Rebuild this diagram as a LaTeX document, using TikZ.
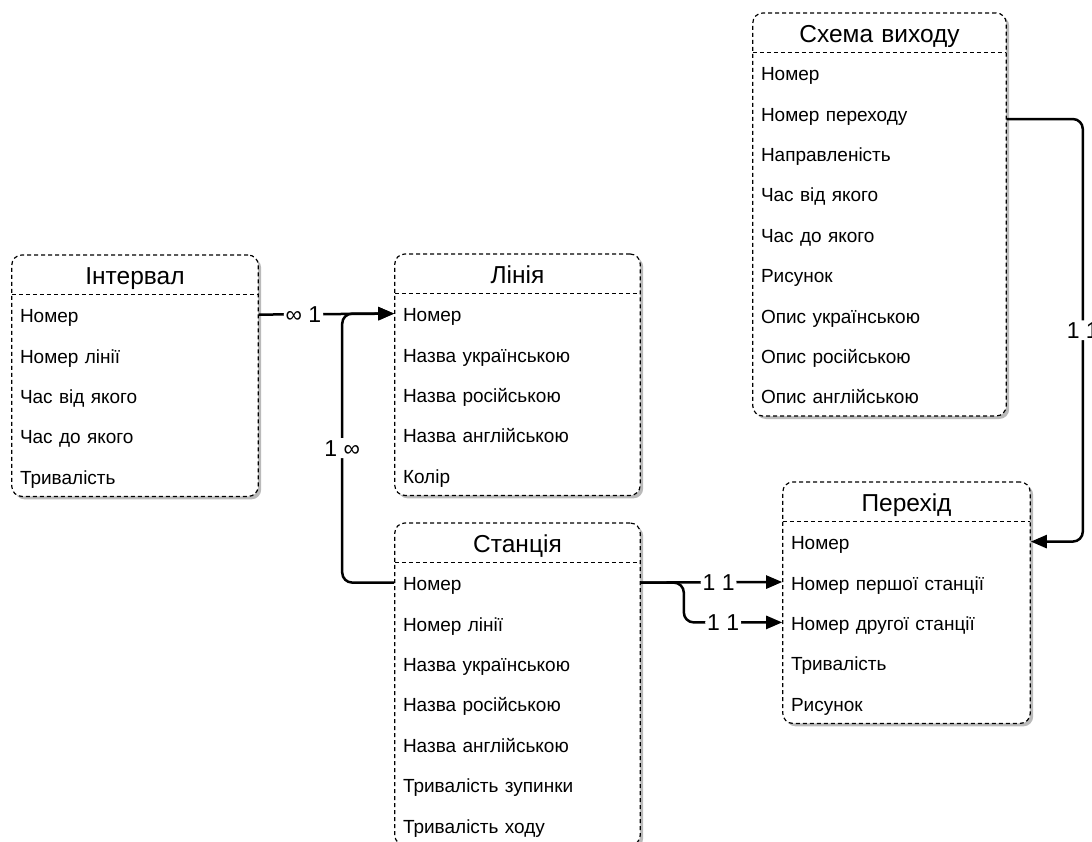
\documentclass[tikz,border=0pt]{standalone}
\usepackage{fontspec}
\setmainfont{Liberation Sans}
\usetikzlibrary{positioning, arrows.meta, fit, backgrounds, shadows}

\begin{document}
\begin{tikzpicture}[
      x=1pt, y=-1pt,
      node distance=0pt,
      head/.style={anchor=north, text width=#1, align=center, inner xsep=8pt, inner ysep=0pt,
        minimum height=39pt, text height=25pt, text depth=5pt, font=\fontsize{24.5}{26}\selectfont},
      field/.style={text width=#1, align=left, inner xsep=8pt, inner ysep=0pt,
        minimum height=40pt, text height=20pt, text depth=4pt, font=\fontsize{19}{21}\selectfont},
      table/.style={draw, dashed, dash pattern=on 4pt off 3pt, line width=1.2pt, rounded corners=10pt,
        fill=white, inner sep=0pt, drop shadow={shadow xshift=3pt, shadow yshift=-3pt, fill=black!45, opacity=0.6}},
      split/.style={draw, dashed, dash pattern=on 4pt off 3pt, line width=0.9pt},
      rel/.style={line width=2.5pt, rounded corners=10pt, -{Triangle[length=16pt, width=13pt]}},
      card/.style={fill=white, inner sep=2pt, font=\fontsize{23}{25}\selectfont}
    ]
    \useasboundingbox (0,0) rectangle (1092,841);

    % Інтервал
    \node[head=230pt] (interval) at (135,255) {Інтервал};
    \node[field=230pt, below=of interval] (interval-1) {Номер};
    \node[field=230pt, below=of interval-1] (interval-2) {Номер лінії};
    \node[field=230pt, below=of interval-2] (interval-3) {Час від якого};
    \node[field=230pt, below=of interval-3] (interval-4) {Час до якого};
    \node[field=230pt, below=of interval-4] (interval-5) {Тривалість};

    % Лінія
    \node[head=229pt] (line) at (517.5,254) {Лінія};
    \node[field=229pt, below=of line] (line-1) {Номер};
    \node[field=229pt, below=of line-1] (line-2) {Назва українською};
    \node[field=229pt, below=of line-2] (line-3) {Назва російською};
    \node[field=229pt, below=of line-3] (line-4) {Назва англійською};
    \node[field=229pt, below=of line-4] (line-5) {Колір};

    % Станція
    \node[head=229pt] (station) at (517.5,523) {Станція};
    \node[field=229pt, below=of station] (station-1) {Номер};
    \node[field=229pt, below=of station-1] (station-2) {Номер лінії};
    \node[field=229pt, below=of station-2] (station-3) {Назва українською};
    \node[field=229pt, below=of station-3] (station-4) {Назва російською};
    \node[field=229pt, below=of station-4] (station-5) {Назва англійською};
    \node[field=229pt, below=of station-5] (station-6) {Тривалість зупинки};
    \node[field=229pt, below=of station-6] (station-7) {Тривалість ходу};

    % Схема виходу
    \node[head=237pt] (exit) at (879.5,13) {Схема виходу};
    \node[field=237pt, below=of exit] (exit-1) {Номер};
    \node[field=237pt, below=of exit-1] (exit-2) {Номер переходу};
    \node[field=237pt, below=of exit-2] (exit-3) {Направленість};
    \node[field=237pt, below=of exit-3] (exit-4) {Час від якого};
    \node[field=237pt, below=of exit-4] (exit-5) {Час до якого};
    \node[field=237pt, below=of exit-5] (exit-6) {Рисунок};
    \node[field=237pt, below=of exit-6] (exit-7) {Опис українською};
    \node[field=237pt, below=of exit-7] (exit-8) {Опис російською};
    \node[field=237pt, below=of exit-8] (exit-9) {Опис англійською};

    % Перехід
    \node[head=231pt] (trans) at (906.5,482) {Перехід};
    \node[field=231pt, below=of trans] (trans-1) {Номер};
    \node[field=231pt, below=of trans-1] (trans-2) {Номер першої станції};
    \node[field=231pt, below=of trans-2] (trans-3) {Номер другої станції};
    \node[field=231pt, below=of trans-3] (trans-4) {Тривалість};
    \node[field=231pt, below=of trans-4] (trans-5) {Рисунок};

    \begin{scope}[on background layer]
      \node[table, fit=(interval)(interval-5)] (interval-box) {};
      \node[table, fit=(line)(line-5)] (line-box) {};
      \node[table, fit=(station)(station-7)] (station-box) {};
      \node[table, fit=(exit)(exit-9)] (exit-box) {};
      \node[table, fit=(trans)(trans-5)] (trans-box) {};
    \end{scope}

    \draw[split] (interval.south west) -- (interval.south east);
    \draw[split] (line.south west) -- (line.south east);
    \draw[split] (station.south west) -- (station.south east);
    \draw[split] (exit.south west) -- (exit.south east);
    \draw[split] (trans.south west) -- (trans.south east);

    \draw[rel] (interval-box.east |- interval-1) -- node[card, pos=0.33] {∞ 1} (line-box.west |- line-1);
    \draw[rel] (station-box.west |- station-1) -- ++(-52,0) |- node[card, pos=0.25] {1 ∞} (line-box.west |- line-1);
    \draw[rel] (station-box.east |- station-1) -- node[card, pos=0.55] {1 1} (trans-box.west |- trans-2);
    \draw[rel] (station-box.east |- station-1) -- ++(43,0) |- node[card, pos=0.7] {1 1} (trans-box.west |- trans-3);
    \draw[rel] (exit-box.east |- exit-2) ++(0,6) -- ++(76,0) |- node[card, pos=0.25] {1 1} (trans-box.east |- trans-1);
  \end{tikzpicture}
\end{document}
